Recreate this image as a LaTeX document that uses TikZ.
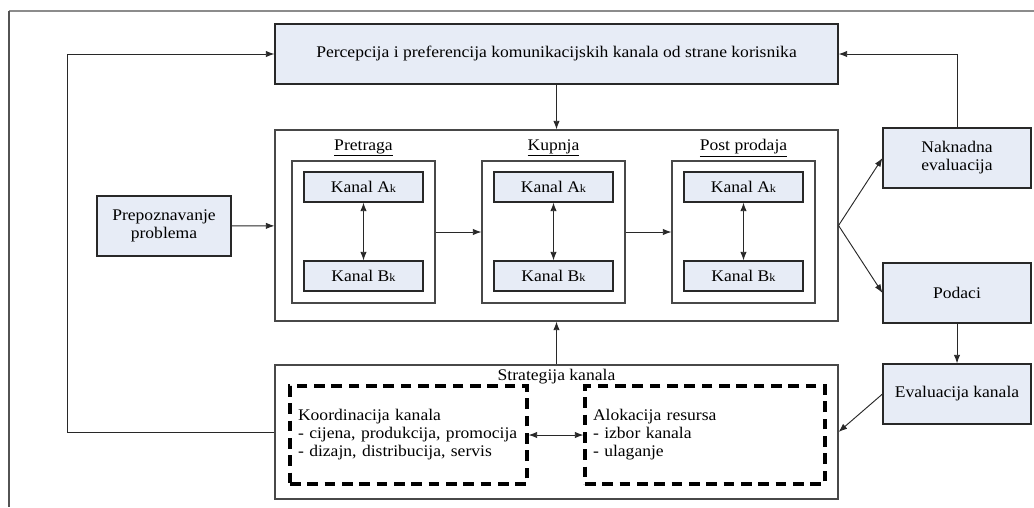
\documentclass[tikz,border=0pt]{standalone}
\usepackage{fontspec}
\setmainfont{Liberation Serif}[FakeStretch=1.08]
\usepackage{xcolor}
\definecolor{boxblue}{RGB}{231, 236, 246}
\definecolor{framegray}{RGB}{140, 140, 140}
\definecolor{linedark}{RGB}{40, 40, 40}
\usepackage{tikz}
\usetikzlibrary{arrows.meta, positioning, calc}

\newcommand{\kanal}[1]{Kanal #1{\fontsize{8.5}{8.5}\selectfont k}}

\begin{document}
\begin{tikzpicture}[x=0.75pt, y=-0.75pt, >={Latex[length=6.5pt, width=4.8pt]},
    every node/.style={font=\fontsize{12.2}{13.5}\selectfont, text=black},
    plavi/.style={draw=linedark, fill=boxblue, line width=0.8pt, align=center, inner sep=0pt},
    okvir/.style={draw=linedark!85, fill=white, line width=0.8pt, inner sep=0pt},
    isprek/.style={draw=black, line width=2.3pt, dash pattern=on 8pt off 5pt, align=left, inner xsep=6pt, minimum height=73.5pt},
    veza/.style={draw=linedark, line width=0.7pt, ->}]
    \useasboundingbox (0,0) rectangle (1034,507);
    \draw[framegray, line width=1.5pt] (1034,11) -- (9,11);
    \draw[linedark!80, line width=0.8pt] (9,11) -- (9,507);

    \node[plavi, minimum width=422.25pt, minimum height=45pt] (percep) at (556.5,54) {Percepcija i preferencija komunikacijskih kanala od strane korisnika};
    \node[okvir, minimum width=422.25pt, minimum height=143.25pt] (proces) at (556.5,225.5) {};
    \node[plavi, minimum width=100.5pt, minimum height=45pt] (prepoz) at (164,226) {Prepoznavanje\\problema};

    \node (lpretraga) at (363.5,148) {\underline{Pretraga}};
    \node (lkupnja) at (553.5,148) {\underline{Kupnja}};
    \node (lpost) at (743.5,148) {\underline{Post prodaja}};
    \node[okvir, minimum width=107.25pt, minimum height=106.5pt] (pretraga) at (363.5,232) {};
    \node[okvir, minimum width=107.25pt, minimum height=106.5pt] (kupnja) at (553.5,232) {};
    \node[okvir, minimum width=107.25pt, minimum height=106.5pt] (post) at (743.5,232) {};
    \node[plavi, minimum width=89.25pt, minimum height=22.5pt] (pretragaA) at (363.5,187) {\kanal{A}};
    \node[plavi, minimum width=89.25pt, minimum height=22.5pt] (pretragaB) at (363.5,276) {\kanal{B}};
    \node[plavi, minimum width=89.25pt, minimum height=22.5pt] (kupnjaA) at (553.5,187) {\kanal{A}};
    \node[plavi, minimum width=89.25pt, minimum height=22.5pt] (kupnjaB) at (553.5,276) {\kanal{B}};
    \node[plavi, minimum width=89.25pt, minimum height=22.5pt] (postA) at (743.5,187) {\kanal{A}};
    \node[plavi, minimum width=89.25pt, minimum height=22.5pt] (postB) at (743.5,276) {\kanal{B}};

    \node[plavi, minimum width=111pt, minimum height=45pt] (naknadna) at (957,158) {Naknadna\\evaluacija};
    \node[plavi, minimum width=111pt, minimum height=45pt] (podaci) at (957,293) {Podaci};
    \node[plavi, minimum width=111pt, minimum height=45pt] (evalk) at (957,394) {Evaluacija kanala};

    \node[okvir, minimum width=422.25pt, minimum height=100.5pt] (strat) at (556.5,432) {};
    \node (lstrat) at (556.5,377) {Strategija kanala};
    \node[isprek, text width=165.75pt] (koord) at (408.5,435) {Koordinacija kanala\\- cijena, produkcija, promocija\\- dizajn, distribucija, servis};
    \node[isprek, text width=168pt] (alok) at (705,435) {Alokacija resursa\\- izbor kanala\\- ulaganje};

    \coordinate (lijevo) at (67,54);
    \draw[veza] (percep) -- (proces);
    \draw[veza] (prepoz) -- (proces);
    \draw[veza] (pretraga) -- (kupnja);
    \draw[veza] (kupnja) -- (post);
    \draw[veza, <->] (pretragaA) -- (pretragaB);
    \draw[veza, <->] (kupnjaA) -- (kupnjaB);
    \draw[veza, <->] (postA) -- (postB);
    \draw[veza] (proces.east) -- (naknadna.west);
    \draw[veza] (proces.east) -- (podaci.west);
    \draw[veza] (naknadna.north) |- (percep.east);
    \draw[veza] (podaci) -- (evalk);
    \draw[veza] (evalk.west) -- (strat.east);
    \draw[veza] (strat) -- (proces);
    \draw[veza, <->] (koord) -- (alok);
    \draw[veza] (strat.west) -| (lijevo) -- (percep.west);
\end{tikzpicture}
\end{document}
